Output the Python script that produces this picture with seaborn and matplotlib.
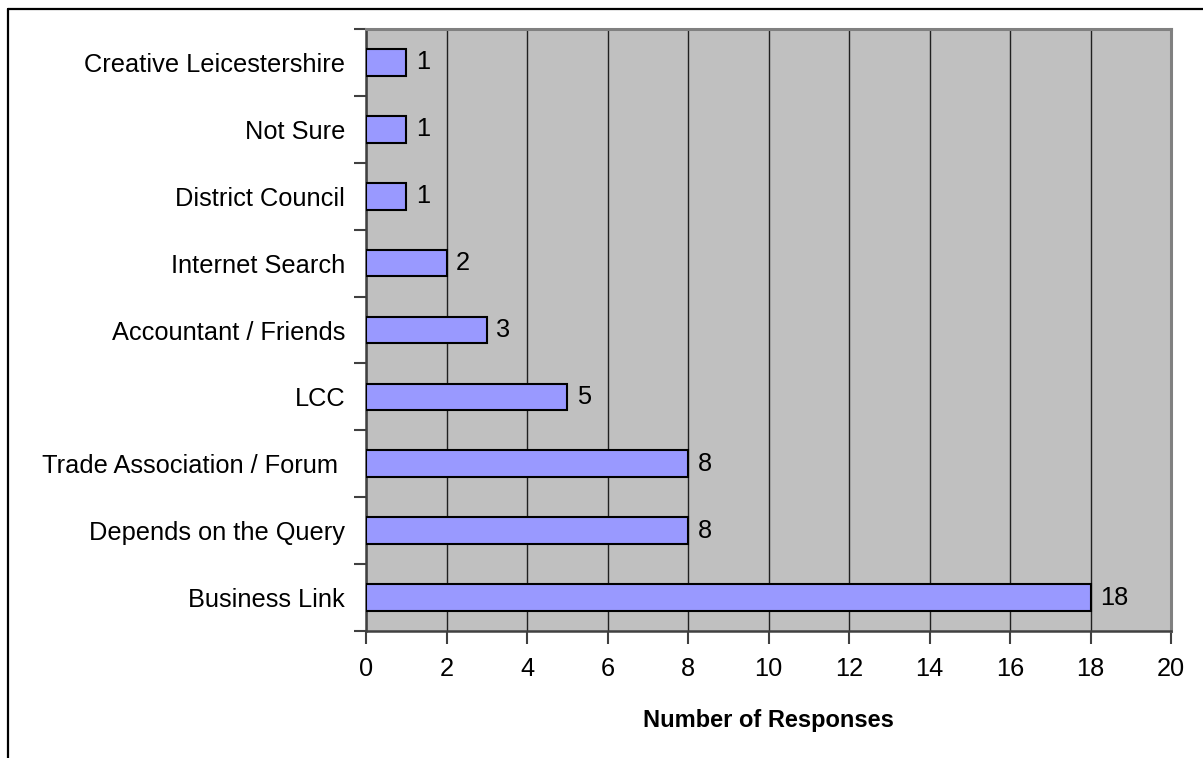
import matplotlib
matplotlib.use("Agg")
import matplotlib.pyplot as plt
from matplotlib.lines import Line2D
import seaborn as sns
import pandas as pd

sources = [
    "Creative Leicestershire",
    "Not Sure",
    "District Council",
    "Internet Search",
    "Accountant / Friends",
    "LCC",
    "Trade Association / Forum ",
    "Depends on the Query",
    "Business Link",
]
responses = [1, 1, 1, 2, 3, 5, 8, 8, 18]
x_ticks = [0, 2, 4, 6, 8, 10, 12, 14, 16, 18, 20]

df = pd.DataFrame({"source": sources, "responses": responses})

sns.set_theme(style="white")
plt.rcParams["font.family"] = ["Liberation Sans", "DejaVu Sans"]

W, H, DPI = 1203, 758, 100
fig = plt.figure(figsize=(W / DPI, H / DPI), dpi=DPI)
fig.patch.set_facecolor("white")
ax = fig.add_axes([366 / W, 1 - 631 / H, (1171 - 366) / W, (631 - 29) / H])
ax.set_facecolor("#C0C0C0")

sns.barplot(data=df, x="responses", y="source", order=sources, orient="h",
            color="#9999FF", saturation=1, width=0.40, edgecolor="black",
            linewidth=1.5, ax=ax, zorder=3)

ax.set_xlim(0, 20)
ax.set_ylim(len(sources) - 0.5, -0.5)
ax.set_xticks(x_ticks)
ax.set_xticklabels([str(t) for t in x_ticks], fontsize=18.3)

# category labels at centres, tick marks at the band boundaries
ax.set_yticks(range(len(sources)))
ax.set_yticklabels(sources, fontsize=18.3)
ax.tick_params(axis="y", which="major", left=True, length=0, pad=15,
               labelcolor="black")
ax.set_yticks([i - 0.5 for i in range(len(sources) + 1)], minor=True)
ax.tick_params(axis="y", which="minor", left=True, length=9, width=1.5,
               color="#404040")
ax.tick_params(axis="x", bottom=True, length=9, width=1.5, color="#404040",
               pad=10, labelcolor="black")

ax.xaxis.grid(True, color="#202020", linewidth=1.0, zorder=1)
ax.set_axisbelow(True)

for side in ["left", "bottom"]:
    ax.spines[side].set_color("#404040")
    ax.spines[side].set_linewidth(1.8)
for side in ["top", "right"]:
    ax.spines[side].set_color("#808080")
    ax.spines[side].set_linewidth(2.2)

ax.set_ylabel("")
ax.set_xlabel("Number of Responses", fontsize=17, fontweight="bold",
              labelpad=20, color="black")

for i, v in enumerate(responses):
    ax.annotate(str(v), xy=(v, i), xytext=(7, 0), textcoords="offset points",
                va="center", ha="left", fontsize=18.3, color="black")

# outer frame along the top and left edges
fig.add_artist(Line2D([8 / W, 8 / W], [0, 1 - 9 / H], transform=fig.transFigure,
                      color="black", linewidth=1.6))
fig.add_artist(Line2D([8 / W, 1], [1 - 9 / H, 1 - 9 / H], transform=fig.transFigure,
                      color="black", linewidth=1.6))

fig.savefig("out.png", dpi=DPI, facecolor="white")
